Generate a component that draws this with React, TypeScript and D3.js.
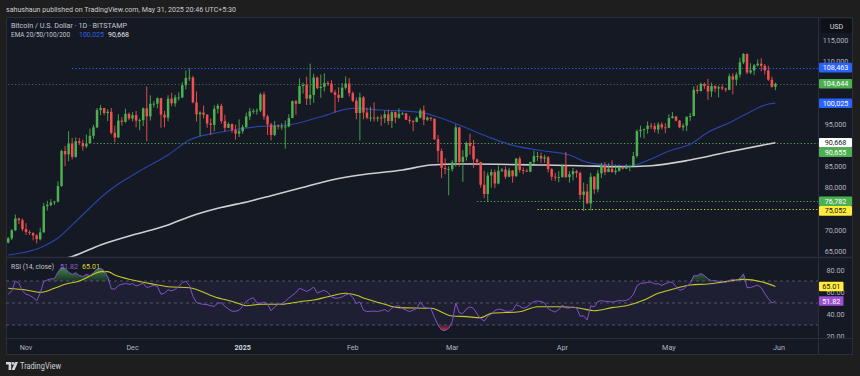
import React from "react";
import * as d3 from "d3";

// ---------- DATA ----------
const START_DATE = "2024-10-27";

const opens = [
  67000, 68000, 69900, 72700, 72300,
  70200, 69500, 69300, 68700, 67800, 69400, 75600, 75900, 76500, 76700, 80400, 88700, 87900, 90500, 87300, 91000, 90600, 89800, 90500, 92300, 94300, 98400, 98900, 97700, 98000, 93000, 91900, 95900, 95600, 97500,
  96400, 97200, 95900, 96000, 98800, 96900, 99900, 99900, 101200, 97300, 96600, 101100, 100000, 101400, 101400, 104300, 106000, 106100, 100200, 97400, 97800, 97300, 95200, 94900, 98700, 99400, 95800, 94200, 95100, 93700, 92800,
  93400, 94400, 96900, 98100, 98200, 98300, 102100, 96900, 95000, 92500, 94700, 94500, 94500, 94500, 96500, 100500, 99900, 104100, 104400, 101100, 102000, 106100, 103600, 103900, 104800, 104700, 102600, 102000, 101300, 103700, 104700,
  102400, 100600, 97700, 101400, 97800, 96600, 96600, 96500, 96600, 96500, 97400, 95800, 97900, 96600, 97500, 97600, 96100, 95800, 95600, 96600, 98300, 96100, 96600, 96300, 91500, 88700, 84700, 84400,
  84400, 86000, 94300, 86100, 87300, 90600, 89900, 86700, 86100, 80700, 78500, 82900, 83700, 81000, 84000, 84300, 82600, 84100, 82700, 86900, 84200, 84000, 83800, 86100, 87500, 87500, 86900, 87200, 84400, 82600, 82400,
  82500, 85200, 82500, 83200, 83900, 83500, 78300, 79100, 76300, 82600, 79600, 83400, 85300, 83700, 84500, 83700, 84000, 84900, 84500, 85000, 85100, 87500, 93400, 93700, 93900, 94700, 94600, 93800, 95000, 94300,
  94200, 96500, 96900, 95900, 94300, 94700, 96800, 97000, 103200, 102900, 104600, 104100, 102800, 104100, 103500, 103800, 103500, 103200, 106400, 105600, 106800, 109700, 111700, 107300, 107800, 109000, 109400, 108900, 107800, 105600, 103900,
];

const highs = [
  68300, 70200, 73600, 72900, 72700,
  71600, 69900, 69400, 69000, 70500, 76400, 76900, 77300, 76900, 81500, 89000, 89900, 93400, 91800, 91900, 91800, 91400, 92600, 94000, 94900, 98900, 99600, 98900, 98600, 98900, 94700, 97400, 96700, 98700, 97800,
  97900, 98200, 96400, 99000, 104000, 101900, 100500, 101400, 101300, 98200, 101900, 102500, 102000, 102600, 105000, 107800, 108300, 106500, 102800, 98100, 99500, 97400, 96400, 99500, 99900, 99900, 97300, 95500, 95200, 94900, 96200,
  94900, 97800, 98900, 98700, 98800, 102500, 102700, 97300, 95400, 95800, 95000, 95300, 95900, 97400, 100700, 100800, 105900, 104900, 106300, 109400, 107000, 106300, 106800, 107100, 105300, 105500, 103200, 103800, 104800, 106400, 106000,
  102800, 101400, 102500, 101700, 99000, 99200, 100200, 96900, 97300, 98300, 98500, 98100, 98000, 98800, 97900, 97700, 97000, 96000, 96900, 98800, 99500, 96900, 96700, 96500, 92500, 89300, 87000, 85100,
  86500, 95000, 94400, 88900, 90900, 92800, 91300, 86900, 86100, 84000, 83600, 84400, 84300, 85300, 84700, 85000, 84700, 84100, 87000, 87400, 84800, 84500, 86100, 88800, 88500, 88300, 87800, 87500, 84600, 83500, 83900,
  85500, 88500, 83900, 84700, 84200, 83800, 81200, 80900, 83500, 82700, 84200, 85900, 86100, 85800, 86500, 85500, 85500, 85100, 85600, 85300, 88500, 93800, 94700, 94000, 95700, 95300, 95300, 95500, 95500, 95300,
  97400, 97900, 96900, 96000, 95200, 96900, 97700, 104000, 104300, 104900, 104900, 105800, 104900, 104300, 104200, 104500, 103700, 107000, 107100, 107300, 110800, 111900, 111800, 109500, 109300, 110400, 110700, 109300, 108900, 106300, 104900,
];

const lows = [
  66800, 67600, 69700, 71400, 69700,
  68800, 68800, 67500, 66800, 67500, 69400, 74600, 75600, 75900, 76500, 80200, 85100, 86300, 86700, 87100, 90100, 88800, 89400, 90400, 91600, 94100, 97200, 97200, 95800, 92600, 90800, 91800, 94700, 95400, 96000,
  95700, 94300, 93600, 94600, 91000, 95900, 99000, 98800, 94200, 94300, 95700, 99300, 99200, 100600, 101200, 103300, 105300, 100000, 95700, 92200, 96400, 94200, 92500, 93400, 97600, 95200, 93300, 94100, 93000, 91400, 92000,
  92800, 94200, 96000, 97500, 97300, 97900, 96100, 92500, 91200, 92200, 93800, 93700, 89200, 94300, 96500, 97300, 99900, 102300, 99600, 99600, 100100, 103300, 101300, 102800, 104100, 102500, 97800, 100300, 101300, 103300, 101600,
  100300, 96200, 91200, 96200, 96200, 95700, 95700, 95700, 94700, 95300, 94900, 94100, 95300, 96300, 97300, 96000, 95200, 93400, 95500, 96400, 94800, 95800, 95800, 91300, 86000, 82300, 83200, 78200,
  83800, 85000, 85000, 81400, 86400, 87800, 84700, 85300, 80000, 77500, 76600, 80000, 79900, 80800, 83700, 82100, 82500, 81200, 82600, 83600, 83200, 83700, 83700, 85600, 86300, 85900, 85900, 83600, 81700, 81600, 81300,
  82400, 82300, 81200, 81700, 82400, 77200, 74500, 76200, 74600, 78500, 78900, 82300, 83000, 83700, 83600, 83100, 83800, 84300, 84400, 83900, 85100, 87100, 91900, 91700, 92800, 93900, 93100, 92800, 93800, 92900,
  94100, 96400, 95700, 94100, 93500, 93400, 95800, 96900, 102300, 102800, 103400, 100800, 101500, 102600, 101400, 103100, 102700, 103100, 102100, 104200, 106100, 109300, 106900, 106900, 106700, 108700, 107600, 106800, 105300, 103700, 103100,
];

const closes = [
  68000, 69900, 72700, 72300, 70200,
  69500, 69300, 68700, 67800, 69400, 75600, 75900, 76500, 76700, 80400, 88700, 87900, 90500, 87300, 91000, 90600, 89800, 90500, 92300, 94300, 98400, 98900, 97700, 98000, 93000, 91900, 95900, 95600, 97500, 96400,
  97200, 95900, 96000, 98800, 96900, 99900, 99900, 101200, 97300, 96600, 101100, 100000, 101400, 101400, 104300, 106000, 106100, 100200, 97400, 97800, 97300, 95200, 94900, 98700, 99400, 95800, 94200, 95100, 93700, 92800, 93400,
  94400, 96900, 98100, 98200, 98300, 102100, 96900, 95000, 92500, 94700, 94500, 94500, 94500, 96500, 100500, 99900, 104100, 104400, 101100, 102000, 106100, 103600, 103900, 104800, 104700, 102600, 102000, 101300, 103700, 104700, 102400,
  100600, 97700, 101400, 97800, 96600, 96600, 96500, 96600, 96500, 97400, 95800, 97900, 96600, 97500, 97600, 96100, 95800, 95600, 96600, 98300, 96100, 96600, 96300, 91500, 88700, 84700, 84400, 84400,
  86000, 94300, 86100, 87300, 90600, 89900, 86700, 86100, 80700, 78500, 82900, 83700, 81000, 84000, 84300, 82600, 84100, 82700, 86900, 84200, 84000, 83800, 86100, 87500, 87500, 86900, 87200, 84400, 82600, 82400, 82500,
  85200, 82500, 83200, 83900, 83500, 78300, 79100, 76300, 82600, 79600, 83400, 85300, 83700, 84500, 83700, 84000, 84900, 84500, 85000, 85100, 87500, 93400, 93700, 93900, 94700, 94600, 93800, 95000, 94300, 94200,
  96500, 96900, 95900, 94300, 94700, 96800, 97000, 103200, 102900, 104600, 104100, 102800, 104100, 103500, 103800, 103500, 103200, 106400, 105600, 106800, 109700, 111700, 107300, 107800, 109000, 109400, 108900, 107800, 105600, 103900, 104644,
];

const rsiValues = [
  58, 61, 70, 68, 61,
  58, 57, 55, 52, 59, 69.5, 71, 72, 72, 78, 82.5, 81.5, 78, 76, 77.5, 75, 74, 76, 75, 77.5, 81, 81.5, 79.5, 74, 63, 62.5, 66, 67, 67.7, 67,
  67.5, 65.5, 66.5, 67.9, 64, 65, 66, 65, 58, 59, 62, 61, 62.5, 65, 68.5, 69.8, 66, 56, 50.5, 49.3, 48.8, 48.5, 47.5, 47, 50, 50, 47, 44.5, 42.5, 42.5, 43.4,
  47, 51.5, 53.5, 54.8, 50, 49.5, 51, 49, 43, 46.5, 48.8, 49.5, 51.5, 54.5, 57, 59.5, 63.5, 62, 60.5, 62, 64.5, 59, 60.5, 61.5, 59.5, 55.5, 54.3, 54.6, 55.5, 57.3, 58.5,
  55, 49.5, 51, 43.5, 42.2, 42.5, 42.6, 42.3, 43, 44, 42, 45.5, 47, 47.5, 45, 43.5, 42.3, 43.5, 45, 51, 46.5, 45.2, 45, 37, 30, 25.5, 25, 27,
  33, 50, 41, 40.5, 44.5, 46.5, 45, 40, 36, 33.5, 37.8, 40, 43, 44.5, 44, 42.5, 42.5, 43, 48.5, 47, 45.2, 46.4, 48.9, 51.3, 51.8, 51.5, 50, 45, 43, 41.8, 44,
  48, 45.5, 45.5, 46.5, 45.5, 38, 38.3, 34.6, 47.5, 46.5, 51.3, 52.2, 51.4, 51.5, 50.8, 51.5, 52.2, 52, 52.4, 54, 57.9, 65.5, 67.9, 68, 68.8, 69, 67.3, 67.5, 66, 67.5,
  69, 68.8, 65, 61.5, 62.5, 65.2, 67.8, 74.8, 74.8, 76.8, 75, 72, 70.3, 70.2, 69.7, 69.7, 68.6, 70.5, 71.6, 70.2, 72.5, 76.5, 64, 64, 65.2, 66.2, 64, 58.5, 54, 50, 51.82,
];

const ema50Dates = ["2024-10-27", "2024-11-05", "2024-11-10", "2024-11-16", "2024-11-24", "2024-12-03", "2024-12-11", "2024-12-17", "2024-12-26", "2025-01-05", "2025-01-14", "2025-01-23", "2025-02-01", "2025-02-09", "2025-02-20", "2025-02-26", "2025-03-03", "2025-03-11", "2025-03-17", "2025-03-25", "2025-04-03", "2025-04-08", "2025-04-14", "2025-04-20", "2025-04-26", "2025-05-01", "2025-05-07", "2025-05-12", "2025-05-18", "2025-05-24", "2025-05-28", "2025-05-31"];
const ema50Values = [64050, 65780, 68080, 72820, 79050, 83960, 87750, 91300, 93200, 94450, 94860, 96820, 98820, 98410, 97870, 96450, 94860, 92080, 90280, 88930, 87750, 86020, 85380, 85210, 86800, 88700, 90280, 93130, 95400, 98010, 99600, 100025];

const ema200Dates = ["2024-10-27", "2024-11-05", "2024-11-14", "2024-11-22", "2024-12-01", "2024-12-11", "2024-12-17", "2024-12-25", "2025-01-03", "2025-01-09", "2025-01-17", "2025-01-26", "2025-02-03", "2025-02-15", "2025-02-23", "2025-03-03", "2025-03-14", "2025-03-25", "2025-04-06", "2025-04-17", "2025-04-26", "2025-05-07", "2025-05-18", "2025-05-31"];
const ema200Values = [61000, 62300, 63700, 66420, 68790, 71160, 73130, 75120, 76800, 78100, 79860, 81820, 83010, 84190, 85380, 85610, 85540, 85380, 85210, 84980, 85210, 86560, 88530, 90668];

const rsiMaDates = ["2024-10-27", "2024-11-01", "2024-11-05", "2024-11-09", "2024-11-12", "2024-11-16", "2024-11-20", "2024-11-22", "2024-11-24", "2024-11-26", "2024-12-01", "2024-12-07", "2024-12-11", "2024-12-17", "2024-12-24", "2024-12-30", "2025-01-02", "2025-01-06", "2025-01-12", "2025-01-17", "2025-01-21", "2025-01-25", "2025-01-30", "2025-02-01", "2025-02-05", "2025-02-10", "2025-02-14", "2025-02-23", "2025-03-01", "2025-03-05", "2025-03-09", "2025-03-12", "2025-03-20", "2025-03-25", "2025-04-01", "2025-04-06", "2025-04-10", "2025-04-15", "2025-04-19", "2025-04-24", "2025-04-28", "2025-05-03", "2025-05-07", "2025-05-12", "2025-05-17", "2025-05-22", "2025-05-27", "2025-05-31"];
const rsiMaValues = [63.4, 61.8, 59.7, 63.4, 67, 70, 76.1, 78.5, 78.5, 75.5, 70.9, 67, 64.8, 63.9, 55.7, 50.5, 47.5, 48.8, 48.8, 51.2, 52.7, 55.7, 58.8, 57.9, 53.6, 48.8, 45.8, 45.2, 38.2, 37.6, 36.7, 40.6, 42.1, 46.6, 46.6, 45.2, 43, 45.8, 47.5, 52.7, 58.8, 63.4, 66.4, 67.3, 69.4, 71.5, 69.4, 65.01];

const priceTicks = [115000, 110000, 95000, 85000, 80000, 70000, 65000];
const rsiTicks = [80, 60, 40, 20];
const monthLabels = ["Nov", "Dec", "2025", "Feb", "Mar", "Apr", "May", "Jun"];
const monthDates = ["2024-11-01", "2024-12-01", "2025-01-01", "2025-02-01", "2025-03-01", "2025-04-01", "2025-05-01", "2025-06-01"];

const levelValues = [108463, 104644, 90655, 76782, 75052];
const levelStarts = ["2024-11-14", "2024-10-27", "2024-11-20", "2025-03-08", "2025-03-25"];
const levelColors = ["#2962ff", "#3f6b4a", "#4caf50", "#4caf50", "#d6d62a"];

const tagValues = [108463, 104644, 100025, 90668, 90655, 76782, 75052];
const tagBgs = ["#2962ff", "#4caf50", "#2962ff", "#ffffff", "#4caf50", "#4caf50", "#ffeb3b"];
const tagFgs = ["#ffffff", "#ffffff", "#ffffff", "#131722", "#ffffff", "#ffffff", "#131722"];

const rsiTagValues = [65.01, 51.82];
const rsiTagBgs = ["#ffeb3b", "#9c4fd0"];
const rsiTagFgs = ["#131722", "#ffffff"];

// ---------- COMPONENT ----------
const parse = (s: string) => new Date(s + "T00:00:00Z");
const FONT = "Roboto, 'Liberation Sans', Arial, sans-serif";

export default function App() {
  const W = 860, H = 376;
  const frameL = 6, frameR = 853, frameT = 17, frameB = 355;
  const plotR = 818;
  const mainB = 257, rsiB = 338;

  const start = parse(START_DATE);
  const dates = closes.map((_, i) => d3.utcDay.offset(start, i));

  const x = d3.scaleUtc().domain([parse("2024-11-01"), parse("2025-06-01")]).range([26, 779]);
  const y = d3.scaleLinear().domain([65000, 115000]).range([251, 40]);
  const ry = d3.scaleLinear().domain([20, 80]).range([336, 270]);

  const fmt = d3.format(",.0f");
  const fmtR = d3.format(".2f");

  const emaLine = d3.line<[Date, number]>().x((d) => x(d[0])).y((d) => y(d[1])).curve(d3.curveMonotoneX);
  const ema50 = emaLine(ema50Dates.map((d, i) => [parse(d), ema50Values[i]]));
  const ema200 = emaLine(ema200Dates.map((d, i) => [parse(d), ema200Values[i]]));

  const rsiPts: [Date, number][] = rsiValues.map((v, i) => [dates[i], v]);
  const rsiLine = d3.line<[Date, number]>().x((d) => x(d[0])).y((d) => ry(d[1]))(rsiPts);
  const rsiUpArea = d3.area<[Date, number]>().x((d) => x(d[0])).y0(ry(70)).y1((d) => ry(Math.max(d[1], 70)))(rsiPts);
  const rsiDnArea = d3.area<[Date, number]>().x((d) => x(d[0])).y0(ry(30)).y1((d) => ry(Math.min(d[1], 30)))(rsiPts);
  const rsiMa = d3.line<[Date, number]>().x((d) => x(d[0])).y((d) => ry(d[1])).curve(d3.curveMonotoneX)(
    rsiMaDates.map((d, i) => [parse(d), rsiMaValues[i]])
  );

  // tag collision handling
  const tagH = 9.6;
  const tagYs: number[] = [];
  tagValues.forEach((v, i) => {
    let ty = y(v);
    if (i > 0 && ty < tagYs[i - 1] + tagH) ty = tagYs[i - 1] + tagH;
    tagYs.push(ty);
  });
  const rsiTagYs: number[] = [];
  rsiTagValues.forEach((v, i) => {
    let ty = ry(v);
    if (i > 0 && ty < rsiTagYs[i - 1] + tagH) ty = rsiTagYs[i - 1] + tagH;
    rsiTagYs.push(ty);
  });

  const up = "#4caf50", dn = "#f0504f";
  const axisText = "#b2b5be";

  return (
    <svg width={W} height={H} style={{ position: "absolute", left: 0, top: 0, display: "block" }} fontFamily={FONT}>
      <defs>
        <clipPath id="mainClip"><rect x={frameL} y={frameT} width={plotR - frameL} height={mainB - frameT} /></clipPath>
        <clipPath id="rsiClip"><rect x={frameL} y={mainB} width={plotR - frameL} height={rsiB - mainB} /></clipPath>
        <clipPath id="rsiAxisClip"><rect x={plotR} y={mainB} width={frameR - plotR} height={rsiB - mainB} /></clipPath>
        <clipPath id="upClip"><rect x={frameL} y={mainB} width={plotR - frameL} height={ry(70) - mainB} /></clipPath>
        <clipPath id="dnClip"><rect x={frameL} y={ry(30)} width={plotR - frameL} height={rsiB - ry(30)} /></clipPath>
        <linearGradient id="upGrad" x1="0" y1="0" x2="0" y2="1">
          <stop offset="0%" stopColor="#4caf50" stopOpacity={0.75} />
          <stop offset="100%" stopColor="#4caf50" stopOpacity={0.15} />
        </linearGradient>
        <linearGradient id="dnGrad" x1="0" y1="0" x2="0" y2="1">
          <stop offset="0%" stopColor="#f23645" stopOpacity={0.15} />
          <stop offset="100%" stopColor="#f23645" stopOpacity={0.75} />
        </linearGradient>
      </defs>

      {/* page */}
      <rect x={0} y={0} width={W} height={H} fill="#1e1e1e" />
      <text x={6} y={11.5} fontSize={7.6} fill="#c9ccd3" textLength={230} lengthAdjust="spacingAndGlyphs">
        sahushaun published on TradingView.com, May 31, 2025 20:46 UTC+5:30
      </text>

      {/* frame */}
      <rect x={frameL + 0.5} y={frameT + 0.5} width={frameR - frameL - 1} height={frameB - frameT - 1} fill="#151924" stroke="#2a2e39" />

      {/* RSI band */}
      <rect x={frameL + 1} y={ry(70)} width={plotR - frameL - 1} height={ry(30) - ry(70)} fill="#7e57c2" fillOpacity={0.1} />

      {/* main pane */}
      <g clipPath="url(#mainClip)">
        {levelValues.map((v, i) => (
          <line key={"lv" + i} x1={x(parse(levelStarts[i]))} x2={plotR} y1={Math.round(y(v)) + 0.5} y2={Math.round(y(v)) + 0.5}
            stroke={levelColors[i]} strokeWidth={1} strokeDasharray="1.2 2.2" />
        ))}
        <path d={ema200 || ""} fill="none" stroke="#cfcfcf" strokeWidth={1.6} />
        <path d={ema50 || ""} fill="none" stroke="#2845a6" strokeWidth={1.2} />
        {dates.map((d, i) => {
          const cx = x(d);
          const o = opens[i], c = closes[i];
          const col = c >= o ? up : dn;
          const top = y(Math.max(o, c)), bot = y(Math.min(o, c));
          return (
            <g key={"c" + i}>
              <line x1={cx} x2={cx} y1={y(highs[i])} y2={y(lows[i])} stroke={col} strokeWidth={0.9} />
              <rect x={cx - 1.25} y={top} width={2.5} height={Math.max(bot - top, 0.9)} fill={col} />
            </g>
          );
        })}
      </g>

      {/* legend */}
      <text x={11} y={27.5} fontSize={7.2} fill="#c3c6cf" textLength={116} lengthAdjust="spacingAndGlyphs">Bitcoin / U.S. Dollar · 1D · BITSTAMP</text>
      <text x={11} y={37.3} fontSize={7.2} fill="#c3c6cf" textLength={59} lengthAdjust="spacingAndGlyphs">EMA 20/50/100/200</text>
      <text x={79} y={37.3} fontSize={7.2} fill="#2f5fe0" textLength={25} lengthAdjust="spacingAndGlyphs">{fmt(ema50Values[ema50Values.length - 1])}</text>
      <text x={108} y={37.3} fontSize={7.2} fill="#e8e8e8" textLength={21} lengthAdjust="spacingAndGlyphs">{fmt(ema200Values[ema200Values.length - 1])}</text>

      {/* RSI pane */}
      <g clipPath="url(#rsiClip)">
        {[70, 50, 30].map((v) => (
          <line key={"rl" + v} x1={frameL} x2={plotR} y1={ry(v)} y2={ry(v)} stroke="#787b86" strokeOpacity={0.75} strokeDasharray="3 3" strokeWidth={0.8} />
        ))}
        <path d={rsiUpArea || ""} fill="url(#upGrad)" clipPath="url(#upClip)" />
        <path d={rsiDnArea || ""} fill="url(#dnGrad)" clipPath="url(#dnClip)" />
        <path d={rsiMa || ""} fill="none" stroke="#c5c925" strokeWidth={1.1} />
        <path d={rsiLine || ""} fill="none" stroke="#8152c8" strokeWidth={1} />
      </g>
      <text x={11} y={268.5} fontSize={7.2} fill="#c3c6cf" textLength={43} lengthAdjust="spacingAndGlyphs">RSI (14, close)</text>
      <text x={60} y={268.5} fontSize={7.2} fill="#8e5bd6" textLength={18} lengthAdjust="spacingAndGlyphs">{fmtR(rsiValues[rsiValues.length - 1])}</text>
      <text x={82} y={268.5} fontSize={7.2} fill="#dada2a" textLength={18} lengthAdjust="spacingAndGlyphs">{fmtR(rsiMaValues[rsiMaValues.length - 1])}</text>

      {/* separators */}
      <line x1={frameL} x2={frameR} y1={mainB + 0.5} y2={mainB + 0.5} stroke="#2a2e39" strokeWidth={1.5} />
      <line x1={frameL} x2={frameR} y1={rsiB + 0.5} y2={rsiB + 0.5} stroke="#2a2e39" />
      <line x1={plotR + 0.5} x2={plotR + 0.5} y1={frameT} y2={frameB} stroke="#2a2e39" />

      {/* price axis */}
      <rect x={821} y={19} width={31} height={14} rx={1.5} fill="#0f1117" />
      <text x={836.5} y={28.6} fontSize={7.2} fill="#d1d4dc" textAnchor="middle">USD</text>
      {priceTicks.map((v) => (
        <text key={"pt" + v} x={835.5} y={y(v) + 2.6} fontSize={7.2} fill={axisText} textAnchor="middle">{fmt(v)}</text>
      ))}
      {tagValues.map((v, i) => (
        <g key={"tg" + i}>
          <rect x={819} y={tagYs[i] - tagH / 2} width={33} height={tagH} rx={1} fill={tagBgs[i]} />
          <text x={835.5} y={tagYs[i] + 2.6} fontSize={7.2} fill={tagFgs[i]} textAnchor="middle">{fmt(v)}</text>
        </g>
      ))}

      {/* RSI axis */}
      <g clipPath="url(#rsiAxisClip)">
        {rsiTicks.map((v) => (
          <text key={"rt" + v} x={835.5} y={ry(v) + 2.6} fontSize={7.2} fill={axisText} textAnchor="middle">{fmtR(v)}</text>
        ))}
      </g>
      {rsiTagValues.map((v, i) => (
        <g key={"rtg" + i}>
          <rect x={819} y={rsiTagYs[i] - tagH / 2} width={24.5} height={tagH} rx={1} fill={rsiTagBgs[i]} />
          <text x={831.2} y={rsiTagYs[i] + 2.6} fontSize={7.2} fill={rsiTagFgs[i]} textAnchor="middle">{fmtR(v)}</text>
        </g>
      ))}

      {/* time axis */}
      {monthLabels.map((m, i) => (
        <text key={"m" + i} x={x(parse(monthDates[i]))} y={349.5} fontSize={7.2} textAnchor="middle"
          fill={m === "2025" ? "#d1d4dc" : axisText} fontWeight={m === "2025" ? 700 : 400}>{m}</text>
      ))}

      {/* TradingView logo */}
      <g fill="#d1d4dc">
        <path d="M6 362 h5.2 v8 h-2.6 v-5.4 h-2.6 z" />
        <circle cx={12.9} cy={363.4} r={1.35} />
        <path d="M15 362 h3 l-3.4 8 h-3 z" />
      </g>
      <text x={20} y={369.3} fontSize={8.2} fill="#d1d4dc" textLength={41} lengthAdjust="spacingAndGlyphs">TradingView</text>
    </svg>
  );
}
